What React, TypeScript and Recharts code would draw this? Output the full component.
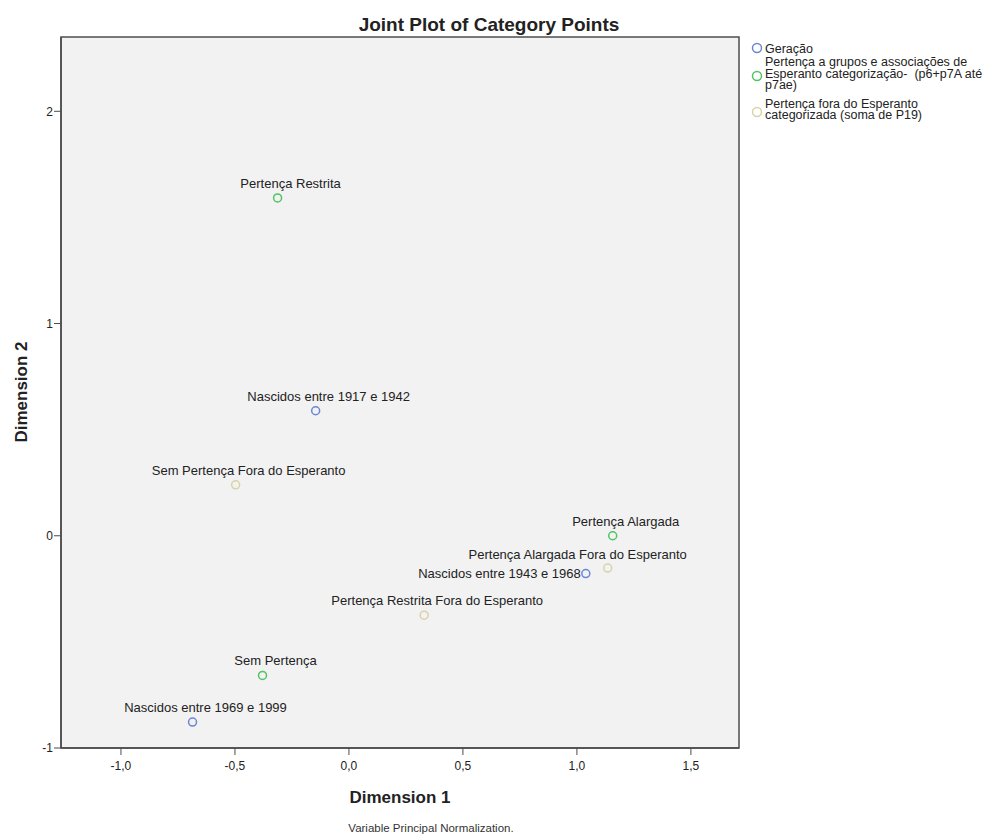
import React from "react";
import { ScatterChart, Scatter, XAxis, YAxis, ReferenceArea } from "recharts";

// category points per variable (Dimension 1, Dimension 2)
const geracao = [
  { name: "Nascidos entre 1917 e 1942", x: -0.146, y: 0.589 },
  { name: "Nascidos entre 1943 e 1968", x: 1.039, y: -0.178 },
  { name: "Nascidos entre 1969 e 1999", x: -0.686, y: -0.878 },
];

const pertencaGrupos = [
  { name: "Pertença Restrita", x: -0.313, y: 1.592 },
  { name: "Pertença Alargada", x: 1.157, y: 0.0 },
  { name: "Sem Pertença", x: -0.379, y: -0.658 },
];

const pertencaFora = [
  { name: "Sem Pertença Fora do Esperanto", x: -0.497, y: 0.24 },
  { name: "Pertença Alargada Fora do Esperanto", x: 1.135, y: -0.152 },
  { name: "Pertença Restrita Fora do Esperanto", x: 0.33, y: -0.374 },
];

const seriesNames = [
  "Geração",
  "Pertença a grupos e associações de\nEsperanto categorização-  (p6+p7A até\np7ae)",
  "Pertença fora do Esperanto\ncategorizada (soma de P19)",
];

const xTicks = [-1, -0.5, 0, 0.5, 1, 1.5];
const yTicks = [-1, 0, 1, 2];

const X_DOMAIN: [number, number] = [-1.263, 1.711];
const Y_DOMAIN: [number, number] = [-1.0, 2.35];

const COLORS = ["#6a86d4", "#4fc462", "#d9d3a6"];
const FONT = "'Liberation Sans', Arial, sans-serif";

// labels that SPSS moved to avoid overlaps
const labelPlacement: Record<string, { dx: number; dy: number; anchor: "start" | "middle" | "end" }> = {
  "Pertença Alargada Fora do Esperanto": { dx: -30, dy: -9, anchor: "middle" },
  "Nascidos entre 1943 e 1968": { dx: -5, dy: 4, anchor: "end" },
};

function makePoint(color: string) {
  return (props: any) => {
    const { cx, cy, payload } = props;
    const p = labelPlacement[payload.name] || { dx: 13, dy: -10, anchor: "middle" };
    return (
      <g>
        <circle cx={cx} cy={cy} r={4} fill="none" stroke={color} strokeWidth={1.5} />
        <text x={cx + p.dx} y={cy + p.dy} textAnchor={p.anchor} fontSize={13} fontFamily={FONT} fill="#222">
          {payload.name}
        </text>
      </g>
    );
  };
}

const fmtX = (v: number) => v.toFixed(1).replace(".", ",");

export default function App() {
  const data = [geracao, pertencaGrupos, pertencaFora];
  const legendBaselines = [52.5, 66, 107.5];
  const legendCircles = [48, 76, 112];

  return (
    <div style={{ position: "absolute", left: 0, top: 0, width: 992, height: 838, overflow: "hidden", background: "#fff" }}>
      <ScatterChart width={992} height={838} margin={{ top: 37, right: 253, bottom: 0, left: 0 }}>
        <ReferenceArea
          x1={X_DOMAIN[0]}
          x2={X_DOMAIN[1]}
          y1={Y_DOMAIN[0]}
          y2={Y_DOMAIN[1]}
          fill="#f2f2f2"
          fillOpacity={1}
          stroke="#4d4d4d"
          strokeWidth={1.5}
          ifOverflow="extendDomain"
        />
        <XAxis
          type="number"
          dataKey="x"
          domain={X_DOMAIN}
          ticks={xTicks}
          tickFormatter={fmtX}
          allowDataOverflow
          height={90}
          tickSize={7}
          tickMargin={6}
          axisLine={{ stroke: "#4d4d4d", strokeWidth: 1.5 }}
          tickLine={{ stroke: "#4d4d4d" }}
          tick={{ fontSize: 12, fontFamily: FONT, fill: "#222" }}
        />
        <YAxis
          type="number"
          dataKey="y"
          domain={Y_DOMAIN}
          ticks={yTicks}
          allowDataOverflow
          width={61}
          tickSize={7}
          tickMargin={1}
          axisLine={{ stroke: "#4d4d4d", strokeWidth: 1.5 }}
          tickLine={{ stroke: "#4d4d4d" }}
          tick={{ fontSize: 12, fontFamily: FONT, fill: "#222" }}
        />
        {data.map((d, i) => (
          <Scatter
            key={seriesNames[i]}
            name={seriesNames[i]}
            data={d}
            shape={makePoint(COLORS[i])}
            isAnimationActive={false}
          />
        ))}
      </ScatterChart>

      <svg width={992} height={838} style={{ position: "absolute", left: 0, top: 0, pointerEvents: "none" }}>
        <text x={489} y={31} textAnchor="middle" fontSize={19} fontWeight="bold" fontFamily={FONT} fill="#222">
          Joint Plot of Category Points
        </text>
        <text x={400} y={803} textAnchor="middle" fontSize={17} fontWeight="bold" fontFamily={FONT} fill="#222">
          Dimension 1
        </text>
        <text
          x={0}
          y={0}
          transform="translate(27,392) rotate(-90)"
          textAnchor="middle"
          fontSize={17}
          fontWeight="bold"
          fontFamily={FONT}
          fill="#222"
        >
          Dimension 2
        </text>
        <text x={431} y={832} textAnchor="middle" fontSize={11.5} fontFamily={FONT} fill="#333">
          Variable Principal Normalization.
        </text>

        {seriesNames.map((name, i) => (
          <g key={name}>
            <circle cx={757} cy={legendCircles[i]} r={4.5} fill="none" stroke={COLORS[i]} strokeWidth={1.5} />
            {name.split("\n").map((line, j) => (
              <text
                key={j}
                x={765}
                y={legendBaselines[i] + j * 11.5}
                fontSize={12.5}
                fontFamily={FONT}
                fill="#222"
                style={{ whiteSpace: "pre" }}
              >
                {line}
              </text>
            ))}
          </g>
        ))}
      </svg>
    </div>
  );
}
